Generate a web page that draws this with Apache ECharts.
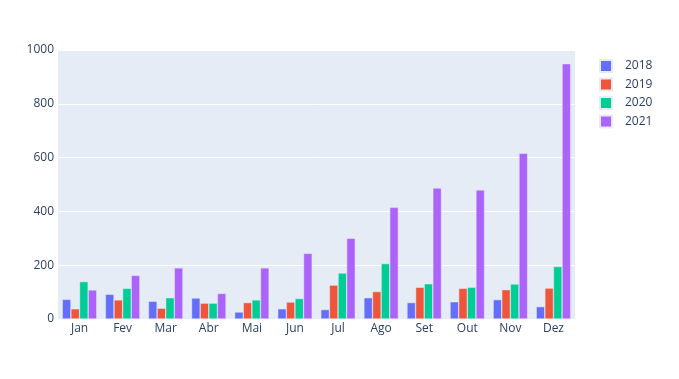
<!DOCTYPE html>
<html>
<head>
<meta charset="utf-8">
<script src="https://cdn.jsdelivr.net/npm/echarts@6/dist/echarts.min.js"></script>
<style>html,body{margin:0;padding:0;background:#fff;}#c{width:679px;height:379px;}</style>
</head>
<body>
<div id="c"></div>
<script>
const months = ['Jan','Fev','Mar','Abr','Mai','Jun','Jul','Ago','Set','Out','Nov','Dez'];
const seriesNames = ['2018','2019','2020','2021'];
const v2018 = [73, 92, 66, 78, 26, 38, 35, 79, 61, 64, 72, 46];
const v2019 = [38, 71, 40, 59, 61, 63, 126, 102, 118, 114, 109, 115];
const v2020 = [139, 114, 79, 59, 71, 76, 171, 206, 131, 118, 130, 195];
const v2021 = [108, 162, 190, 95, 190, 244, 300, 415, 487, 480, 616, 949];
const yTicks = [0, 200, 400, 600, 800, 1000];
const colors = ['#636EFA', '#EF553B', '#00CC96', '#AB63FA'];

const values = [v2018, v2019, v2020, v2021];
const chart = echarts.init(document.getElementById('c'));
chart.setOption({
  animation: false,
  textStyle: { fontFamily: '"Open Sans", sans-serif' },
  grid: { left: 58, right: 104, top: 50, bottom: 60, show: true, backgroundColor: '#E5ECF6', borderWidth: 0 },
  legend: {
    orient: 'vertical', left: 594, top: 54,
    icon: 'rect', itemWidth: 12, itemHeight: 12, itemGap: 4.5,
    data: seriesNames,
    textStyle: { color: '#2a3f5f', fontSize: 12, padding: [0, 0, 0, 8] }
  },
  xAxis: {
    type: 'category', data: months,
    axisLine: { show: false }, axisTick: { show: false },
    axisLabel: { color: '#2a3f5f', fontSize: 12, margin: 4 },
    splitLine: { show: false }
  },
  yAxis: {
    type: 'value', min: yTicks[0], max: yTicks[yTicks.length - 1], interval: 200,
    axisLine: { show: false }, axisTick: { show: false },
    axisLabel: { color: '#2a3f5f', fontSize: 12, margin: 4, formatter: v => String(v) },
    splitLine: { lineStyle: { color: '#ffffff', width: 1 } }
  },
  series: seriesNames.map((n, i) => ({
    name: n, type: 'bar', data: values[i],
    barGap: '0%', barCategoryGap: '20%',
    itemStyle: { color: colors[i], borderColor: '#E5ECF6', borderWidth: 0.5 }
  }))
});
</script>
</body>
</html>
